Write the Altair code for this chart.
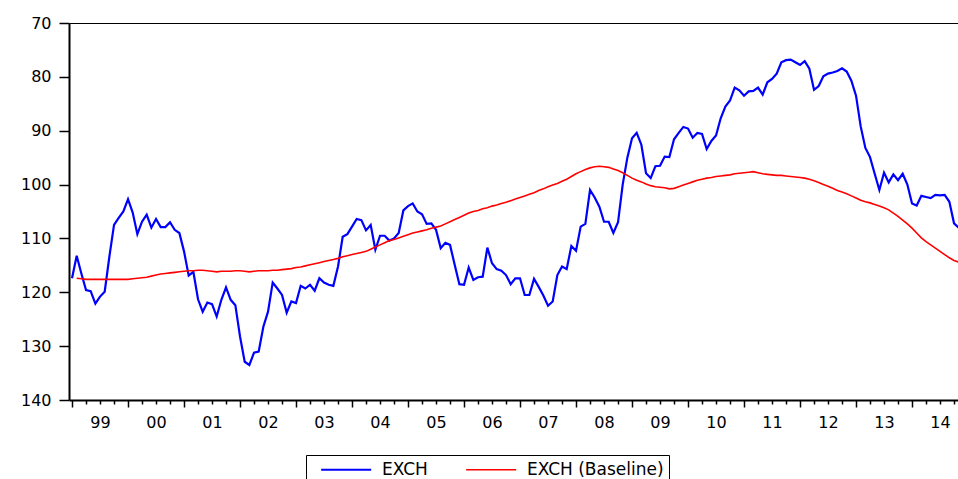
import altair as alt
import pandas as pd

START_YEAR = 1999
SERIES = ["EXCH", "EXCH (Baseline)"]

# EXCH, monthly from 1999M01
exch = [
    117.4, 113.2, 116.5, 119.6, 119.8, 122.1, 120.8, 119.9, 113.4, 107.5, 106.2, 105.0,  # 1999
    102.7, 105.2, 109.2, 106.9, 105.6, 108.0, 106.4, 107.9, 107.9, 107.0, 108.4, 109.0,  # 2000
    112.4, 116.9, 116.2, 121.3, 123.6, 121.9, 122.2, 124.5, 121.4, 119.1, 121.4, 122.4,  # 2001
    128.2, 132.9, 133.5, 131.2, 131.0, 126.4, 123.6, 118.2, 119.3, 120.5, 123.8, 121.7,  # 2002
    122.0, 118.8, 119.3, 118.6, 119.7, 117.4, 118.2, 118.6, 118.8, 115.2, 109.7, 109.2,  # 2003
    107.8, 106.4, 106.6, 108.5, 107.5, 112.1, 109.5, 109.5, 110.4, 110.0, 109.0, 104.8,  # 2004
    104.0, 103.5, 105.0, 105.5, 107.3, 107.2, 108.4, 111.8, 110.8, 111.2, 114.9, 118.5,  # 2005
    118.6, 115.4, 117.7, 117.2, 117.1, 111.7, 114.6, 115.7, 116.0, 116.8, 118.5, 117.4,  # 2006
    117.4, 120.5, 120.5, 117.5, 119.0, 120.6, 122.5, 121.7, 116.8, 115.2, 115.7, 111.4,  # 2007
    112.3, 107.8, 107.3, 101.0, 102.4, 104.1, 106.9, 106.9, 109.0, 107.0, 100.0, 95.0,   # 2008
    91.4, 90.4, 92.6, 97.9, 98.8, 96.6, 96.5, 94.8, 94.9, 91.6, 90.4, 89.3,              # 2009
    89.6, 91.3, 90.4, 90.6, 93.4, 91.9, 90.9, 87.7, 85.5, 84.4, 82.0, 82.5,              # 2010
    83.5, 82.7, 82.6, 82.0, 83.3, 81.0, 80.4, 79.4, 77.3, 76.9, 76.8, 77.3,              # 2011
    77.8, 77.1, 78.5, 82.4, 81.7, 79.9, 79.4, 79.2, 78.9, 78.4, 79.0, 80.7,              # 2012
    83.5, 89.2, 93.2, 94.9, 98.0, 101.0, 97.8, 99.6, 98.1, 99.2, 98.0, 100.0,            # 2013
    103.5, 103.9, 102.1, 102.3, 102.5, 101.9, 102.0, 101.9, 103.2, 107.2, 108.0,         # 2014
]

# EXCH (Baseline), monthly from 1999M02
baseline = [
    117.4, 117.5, 117.6, 117.6, 117.6, 117.6, 117.6, 117.6, 117.6, 117.6, 117.6,         # 1999
    117.6, 117.5, 117.4, 117.3, 117.2, 117.0, 116.8, 116.6, 116.5, 116.4, 116.3, 116.2,  # 2000
    116.1, 116.0, 116.0, 115.9, 115.9, 116.0, 116.1, 116.2, 116.1, 116.1, 116.1, 116.0,  # 2001
    116.0, 116.1, 116.2, 116.1, 116.0, 116.0, 116.0, 115.9, 115.9, 115.8, 115.7, 115.6,  # 2002
    115.4, 115.3, 115.1, 114.9, 114.7, 114.5, 114.3, 114.1, 113.9, 113.7, 113.4, 113.2,  # 2003
    113.0, 112.8, 112.6, 112.4, 112.0, 111.6, 111.2, 110.8, 110.4, 110.2, 109.9, 109.6,  # 2004
    109.3, 109.0, 108.8, 108.6, 108.4, 108.1, 107.9, 107.7, 107.3, 106.9, 106.5, 106.1,  # 2005
    105.7, 105.3, 105.0, 104.8, 104.5, 104.3, 104.0, 103.8, 103.5, 103.3, 103.0, 102.7,  # 2006
    102.4, 102.1, 101.8, 101.5, 101.1, 100.8, 100.4, 100.1, 99.8, 99.4, 99.0, 98.5,      # 2007
    98.0, 97.6, 97.2, 96.9, 96.7, 96.6, 96.7, 96.8, 97.1, 97.4, 97.8, 98.3,              # 2008
    98.8, 99.2, 99.5, 99.9, 100.2, 100.4, 100.5, 100.6, 100.8, 100.7, 100.4, 100.1,      # 2009
    99.8, 99.5, 99.2, 99.0, 98.8, 98.7, 98.5, 98.4, 98.3, 98.2, 98.0, 97.9,              # 2010
    97.8, 97.7, 97.6, 97.8, 98.0, 98.1, 98.2, 98.3, 98.3, 98.4, 98.5, 98.6,              # 2011
    98.7, 98.8, 99.0, 99.3, 99.6, 100.0, 100.3, 100.7, 101.1, 101.4, 101.7, 102.1,       # 2012
    102.5, 102.9, 103.2, 103.4, 103.7, 104.0, 104.3, 104.7, 105.3, 105.9, 106.6, 107.3,  # 2013
    108.1, 109.0, 109.9, 110.6, 111.2, 111.8, 112.4, 113.0, 113.6, 114.1, 114.4,         # 2014
]

y_ticks = [70, 80, 90, 100, 110, 120, 130, 140]
quarter_ticks = [START_YEAR + q / 4 for q in range(64)]

rows = []
for i, v in enumerate(exch):
    rows.append({"t": START_YEAR + i / 12, "value": v, "series": SERIES[0]})
for i, v in enumerate(baseline, start=1):
    rows.append({"t": START_YEAR + i / 12, "value": v, "series": SERIES[1]})
df = pd.DataFrame(rows)

FONT = "DejaVu Sans"

x_scale = alt.Scale(domain=[1998.946, 2014.821], nice=False, zero=False)
y_scale = alt.Scale(domain=[70, 140], reverse=True, nice=False, zero=False)

x_axis = alt.Axis(
    values=quarter_ticks, title=None, grid=False,
    labelExpr="datum.value % 1 === 0.5 ? format(floor(datum.value) % 100, '02d') : ''",
    labelFont=FONT, labelFontSize=16, labelColor="black", labelPadding=10,
    labelOverlap=False, labelFlush=False,
    tickColor="black", tickWidth=1.5,
    tickSize={"condition": {"test": "datum.value % 1 === 0", "value": 7}, "value": 4},
    domainColor="black", domainWidth=2,
)
y_axis = alt.Axis(
    values=y_ticks, title=None, grid=False,
    labelFont=FONT, labelFontSize=16, labelColor="black", labelPadding=8,
    labelFlush=False, labelOverlap=False,
    tickColor="black", tickWidth=1.5, tickSize=10,
    domainColor="black", domainWidth=2,
)
top_axis = alt.Axis(
    orient="top", title=None, grid=False, labels=False, ticks=False,
    domainColor="black", domainWidth=1,
)

legend = alt.Legend(
    title=None, orient="none", legendX=237, legendY=432, direction="horizontal",
    strokeColor="black", fillColor="white", padding=5,
    symbolType="M-3,0H3", symbolSize=278, symbolStrokeWidth=1.3,
    symbolOffset=25.67, labelOffset=26.33, columnPadding=28,
    labelFont=FONT, labelFontSize=17, labelColor="black",
)

lines = alt.Chart(df).mark_line(clip=True).encode(
    x=alt.X("t:Q", scale=x_scale, axis=x_axis),
    y=alt.Y("value:Q", scale=y_scale, axis=y_axis),
    color=alt.Color("series:N", scale=alt.Scale(domain=SERIES, range=["#0000ff", "#ff0000"]), legend=legend),
    strokeWidth=alt.StrokeWidth("series:N", scale=alt.Scale(domain=SERIES, range=[2.2, 1.6]), legend=None),
)

frame = alt.Chart(df).mark_line(opacity=0).encode(
    x=alt.X("t:Q", scale=x_scale, axis=top_axis),
    y=alt.Y("value:Q", scale=y_scale, axis=y_axis),
    detail="series:N",
)

chart = alt.layer(lines, frame).resolve_axis(x="independent").properties(
    width=889, height=377,
    autosize=alt.AutoSizeParams(type="none"),
    padding={"left": 69, "top": 23, "right": 0, "bottom": 79},
    background="white",
).configure_view(stroke=None)

chart.save("out.html", embed_options={"renderer": "svg", "actions": False})
